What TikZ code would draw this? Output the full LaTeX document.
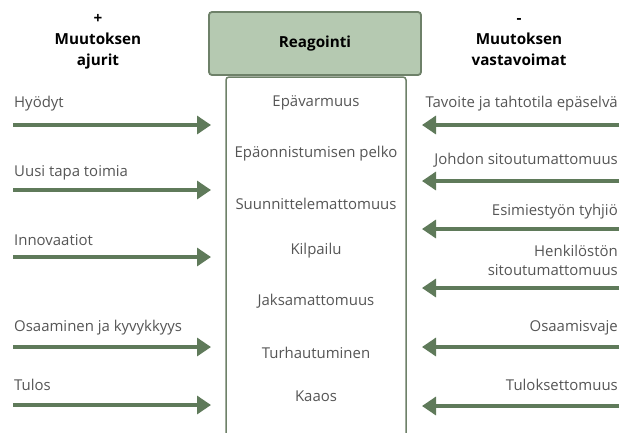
\documentclass[tikz,border=0pt]{standalone}
\usepackage{fontspec}
\setmainfont{Open Sans}
\usetikzlibrary{arrows.meta}
\definecolor{arrowgreen}{HTML}{5F7A5A}
\definecolor{boxline}{HTML}{6E8169}
\definecolor{headfill}{HTML}{B5C9B1}
\definecolor{bodytext}{HTML}{555555}
\tikzset{
  force/.style={line width=3.3bp, arrowgreen, -{Triangle[length=14bp,width=18bp]}},
  lbl/.style={font=\fontsize{15}{19}\selectfont, text=bodytext, inner sep=0pt},
  lefttxt/.style={lbl, anchor=west},
  righttxt/.style={lbl, anchor=east, align=right},
  midtxt/.style={lbl, anchor=center},
  headtxt/.style={font=\bfseries\fontsize{15.3}{21}\selectfont, align=center, inner sep=0pt}
}
\begin{document}
\begin{tikzpicture}[x=1bp,y=-1bp]
\useasboundingbox (0,0) rectangle (621,432);
\clip (0,0) rectangle (621,432);

% column headings
\node[headtxt] (plus) at (98,42) {+\\Muutoksen\\ajurit};
\node[headtxt] (minus) at (519,42) {-\\Muutoksen\\vastavoimat};

% reaction column
\draw[boxline, line width=1.5bp, rounded corners=3bp, fill=white]
  (226,445) -- (226,77) -- (406,77) -- (406,445);
\node[draw=boxline, line width=1.8bp, fill=headfill, rounded corners=3bp,
      minimum width=212bp, minimum height=63bp, font=\bfseries\fontsize{15.3}{18}\selectfont]
      (head) at (315,43.5) {Reagointi};

\node[midtxt] (c1) at (316,103) {Epävarmuus};
\node[midtxt] (c2) at (316,154) {Epäonnistumisen pelko};
\node[midtxt] (c3) at (316,204) {Suunnittelemattomuus};
\node[midtxt] (c4) at (316,251) {Kilpailu};
\node[midtxt] (c5) at (316,301) {Jaksamattomuus};
\node[midtxt] (c6) at (316,353) {Turhautuminen};
\node[midtxt] (c7) at (316,396) {Kaaos};

% drivers of change (left)
\node[lefttxt] (l1) at (14,104) {Hyödyt};
\node[lefttxt] (l2) at (14,173) {Uusi tapa toimia};
\node[lefttxt] (l3) at (14,240) {Innovaatiot};
\node[lefttxt] (l4) at (14,328) {Osaaminen ja kyvykkyys};
\node[lefttxt] (l5) at (14,385) {Tulos};
\foreach \i/\y in {1/125,2/190,3/257,4/347,5/405}{
  \coordinate (ls\i) at (13,\y);
  \coordinate (le\i) at (211,\y);
  \draw[force] (ls\i) -- (le\i);
}

% resisting forces (right)
\node[righttxt] (r1) at (618,104) {Tavoite ja tahtotila epäselvä};
\node[righttxt] (r2) at (618,160) {Johdon sitoutumattomuus};
\node[righttxt] (r3) at (618,212) {Esimiestyön tyhjiö};
\node[righttxt] (r4) at (618,260) {Henkilöstön\\sitoutumattomuus};
\node[righttxt] (r5) at (618,328) {Osaamisvaje};
\node[righttxt] (r6) at (618,385) {Tuloksettomuus};
\foreach \i/\y in {1/125,2/181,3/229,4/288,5/347,6/406}{
  \coordinate (rs\i) at (619,\y);
  \coordinate (re\i) at (422,\y);
  \draw[force] (rs\i) -- (re\i);
}
\end{tikzpicture}
\end{document}
